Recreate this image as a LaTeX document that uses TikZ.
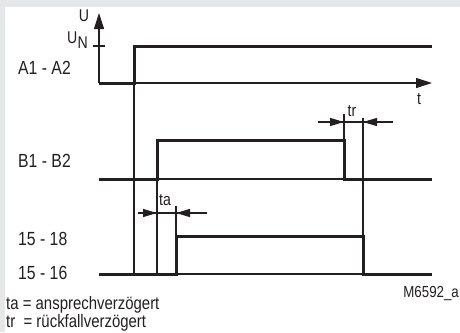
\documentclass[tikz,border=0pt]{standalone}
\usepackage{fontspec}
\setmainfont{Liberation Sans}[FakeStretch=0.83]
\usetikzlibrary{arrows.meta}
\definecolor{panelgray}{RGB}{230,231,232}
\definecolor{ink}{RGB}{35,31,32}
\tikzset{
  wave/.style={draw=ink, line width=3pt, line join=miter},
  guide/.style={draw=ink, line width=1.1pt},
  dimtip/.style={guide, -{Triangle[length=14pt,width=8pt]}},
  axtip/.style={guide, -{Triangle[length=16pt,width=10pt]}},
  lbl/.style={font=\fontsize{19}{21}\selectfont, text=ink, inner sep=0pt, anchor=base west},
  small/.style={font=\fontsize{17}{19}\selectfont, text=ink, inner sep=0pt}
}
\begin{document}
\begin{tikzpicture}[x=1pt,y=-1pt]
% panel
\fill[panelgray] (0,0) rectangle (460,332);
\fill[white] (5,7) rectangle (460,332);
\useasboundingbox (0,0) rectangle (460,332);

% key points of the time chart
\coordinate (o)    at (99,83);
\coordinate (utip) at (99,13);
\coordinate (ton)  at (134,83);
\coordinate (tend) at (432,83);
\coordinate (a1)   at (134,46);
\coordinate (a2)   at (432,46);
\coordinate (tk1)  at (93,46);
\coordinate (tk2)  at (105,46);

\coordinate (b0) at (99,179);
\coordinate (b1) at (157,179);
\coordinate (b2) at (157,140);
\coordinate (b3) at (344,140);
\coordinate (b4) at (344,179);
\coordinate (b5) at (432,179);

\coordinate (c0) at (99,274);
\coordinate (c1) at (176,274);
\coordinate (c2) at (176,236);
\coordinate (c3) at (363,236);
\coordinate (c4) at (363,274);
\coordinate (c5) at (432,274);

% axes
\draw[axtip] (o) -- (utip);
\draw[guide] (tk1) -- (tk2);
\draw[axtip] (ton) -- (tend);

% reference lines
\draw[guide] (ton) -- (ton |- c0);
\draw[guide] (b1) -- (b1 |- c0);
\draw[guide] (b1) -- (b4);
\draw[guide] (c1) -- (c4);
\draw[guide] (176,206) -- (c2);
\draw[guide] (344,114) -- (b3);
\draw[guide] (363,118) -- (c3);

% dimension marks
\coordinate (ta1) at (138,213);
\coordinate (ta2) at (207,213);
\draw[guide] (ta1) -- (ta2);
\draw[dimtip] (ta1) -- (157,213);
\draw[dimtip] (ta2) -- (176,213);
\coordinate (tr1) at (318,122);
\coordinate (tr2) at (393,122);
\draw[guide] (tr1) -- (tr2);
\draw[dimtip] (tr1) -- (344,122);
\draw[dimtip] (tr2) -- (363,122);

% signals
\draw[wave] (o) -- (ton) -- (a1) -- (a2);
\draw[wave] (b0) -- (b1) -- (b2) -- (b3) -- (b4) -- (b5);
\draw[wave] (c0) -- (c1) -- (c2) -- (c3) -- (c4) -- (c5);

% labels
\node[lbl] (la) at (18,74) {A1 - A2};
\node[lbl] (lb) at (18,167) {B1 - B2};
\node[lbl] (lc) at (18,245) {15 - 18};
\node[lbl] (ld) at (18,279) {15 - 16};
\node[small] (lu) at (84,16) {U};
\node[small, anchor=base west] (lun) at (67,43) {U\kern0.3pt\raisebox{-5pt}{N}};
\node[small] (lt) at (419,99) {t};
\node[small] (lta) at (165,200) {ta};
\node[small] (ltr) at (352,111) {tr};
\node[small, anchor=base east, font=\fontsize{16}{18}\selectfont] (code) at (459,297) {M6592\_a};
\node[lbl, font=\fontsize{18}{14}\selectfont, align=left] (key) at (6,327)
  {ta = ansprechverzögert\\tr\ \ = rückfallverzögert};
\end{tikzpicture}
\end{document}
